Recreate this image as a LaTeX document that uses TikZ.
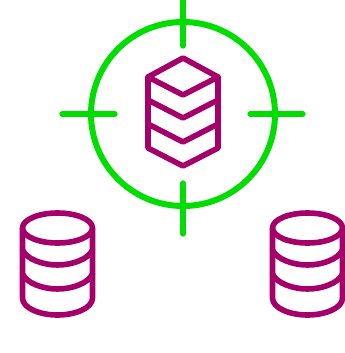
\documentclass[tikz,border=0pt]{standalone}
\definecolor{tgreen}{RGB}{0,222,0}
\definecolor{tpurple}{RGB}{165,0,105}
\tikzset{
  x=0.75pt,y=-0.75pt,
  sight/.style={draw=tgreen,line width=3.9pt,line cap=round},
  ring/.style={draw=tgreen,line width=4.5pt},
  store/.style={draw=tpurple,line width=4.2pt,line join=round,line cap=round},
}
\newcommand{\drum}[1]{%
  \begin{scope}[xshift=#1*0.75pt]
    \draw[store] (0,228) ellipse [x radius=35,y radius=15];
    \draw[store] (-35,228) -- (-35,298) .. controls (-35,308) and (-18,315) .. (0,315) .. controls (18,315) and (35,308) .. (35,298) -- (35,228);
    \draw[store] (-35,250) .. controls (-31,259) and (-15,265) .. (0,265) .. controls (15,265) and (31,259) .. (35,250);
    \draw[store] (-35,274) .. controls (-31,283) and (-15,289) .. (0,289) .. controls (15,289) and (31,283) .. (35,274);
  \end{scope}}
\begin{document}
\begin{tikzpicture}
\useasboundingbox (0,0) rectangle (344,353);
\draw[ring] (183,114) circle [radius=92];
\draw[sight] (183,0) -- (183,46);
\draw[sight] (183,183) -- (183,234);
\draw[sight] (62,114) -- (115,114);
\draw[sight] (250,114) -- (303,114);
\draw[store] (183,58) -- (218,77) -- (218,148) -- (183,166) -- (148,148) -- (148,77) -- cycle;
\draw[store] (148,77) -- (183,95) -- (218,77);
\draw[store] (148,100) -- (183,118) -- (218,100);
\draw[store] (148,124) -- (183,142) -- (218,124);
\drum{57.5}
\drum{307.5}
\end{tikzpicture}
\end{document}
